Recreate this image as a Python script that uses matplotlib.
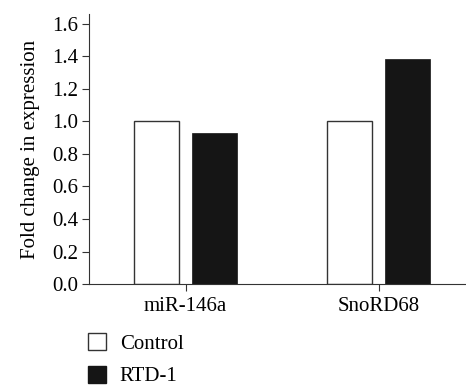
import numpy as np
import matplotlib.pyplot as plt
from matplotlib.patches import Patch

# datos
genes = ['miR-146a', 'SnoRD68']
control = [1.0, 1.0]
rtd1 = [0.93, 1.385]
yticks = [0.0, 0.2, 0.4, 0.6, 0.8, 1.0, 1.2, 1.4, 1.6]

plt.rcParams['font.family'] = ['Liberation Serif', 'DejaVu Serif']

fig = plt.figure(figsize=[4.66, 3.87], dpi=100)
ax = fig.add_axes([0.191, 0.266, 0.809, 0.698])

x = np.arange(len(genes))
ancho = 0.233
sep = 0.148

ax.bar(x - sep, control, width=ancho, color='white', edgecolor='#333333', linewidth=1.0, label='Control')
ax.bar(x + sep, rtd1, width=ancho, color='#151515', edgecolor='#151515', linewidth=0.5, label='RTD-1')

# estilo
ax.spines['top'].set_visible(False)
ax.spines['right'].set_visible(False)
ax.spines['left'].set_color('#333333')
ax.spines['bottom'].set_color('#333333')
ax.set_xlim(-0.5, 1.453)
ax.set_ylim(0, 1.66)
ax.set_yticks(yticks)
ax.set_yticklabels(['%.1f' % v for v in yticks])
ax.set_xticks(x)
ax.set_xticklabels(genes)
ax.tick_params(axis='both', labelsize=15, length=5, width=0.8, color='#333333', direction='out', pad=2.5)
ax.tick_params(axis='x', pad=4)
ax.set_ylabel('Fold change in expression', fontsize=15, labelpad=9)

handles = [Patch(facecolor='white', edgecolor='#333333', linewidth=1.0),
           Patch(facecolor='#151515', edgecolor='#151515')]
fig.legend(handles, ['Control', 'RTD-1'], loc='upper left', bbox_to_anchor=(88 / 466, 1 - 333 / 387),
           frameon=False, fontsize=15, handlelength=0.87, handleheight=0.87,
           handletextpad=0.65, labelspacing=0.58, borderaxespad=0, borderpad=0)

fig.savefig('out.png', dpi=100)
